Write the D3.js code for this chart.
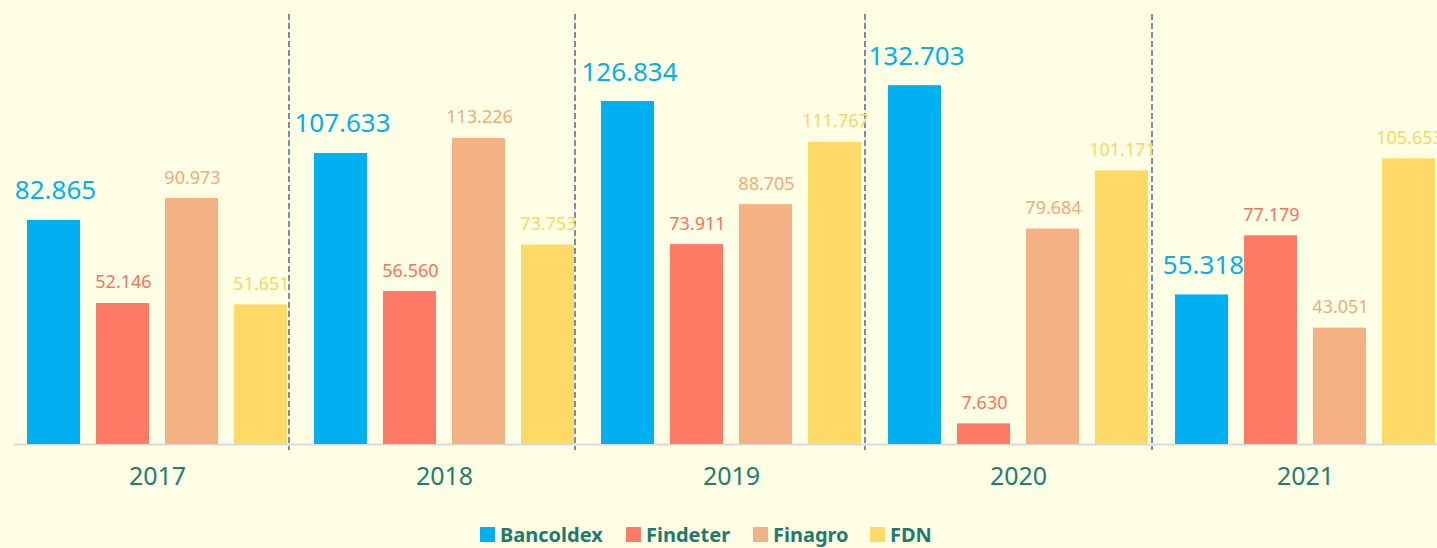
<!DOCTYPE html>
<html><head><meta charset="utf-8">
<script src="https://cdn.jsdelivr.net/npm/d3@7"></script>
<style>html,body{margin:0;padding:0;background:#FFFFE6;}svg{display:block;}</style>
</head><body>
<script>
const years = ["2017","2018","2019","2020","2021"];
const seriesNames = ["Bancoldex","Findeter","Finagro","FDN"];
const bancoldex = [82.865,107.633,126.834,132.703,55.318];
const findeter  = [52.146,56.560,73.911,7.630,77.179];
const finagro   = [90.973,113.226,88.705,79.684,43.051];
const fdn       = [51.651,73.753,111.767,101.171,105.653];
const colors = ["#00B0F0","#FF7A64","#F4B183","#FFD966"];
const labelColors = ["#00B0F0","#FF6F5A","#F4A97A","#FFD45C"];
const values = [bancoldex, findeter, finagro, fdn];
const fmt = v => v.toFixed(3);

const W = 1437, H = 548;
const svg = d3.select("body").append("svg").attr("width",W).attr("height",H);
svg.append("rect").attr("width",W).attr("height",H).attr("fill","#FFFFE6");

const x0 = d3.scaleBand().domain(years).range([13.5, 1448.5]).padding(0);
const x1 = d3.scaleBand().domain(seriesNames).range([13.5, 273.5]).paddingInner(0.232).paddingOuter(0);
const y = d3.scaleLinear().domain([0,160]).range([444, 444-160*2.704]);

const font = "'Noto Sans', sans-serif";

// dividers between year groups
const dividerGap = [2, 1, 4, 4];
years.slice(0,4).forEach((yr,i)=>{
  const xd = x0(yr) + x1.range()[1] + dividerGap[i];
  svg.append("line").attr("x1",xd).attr("x2",xd).attr("y1",14).attr("y2",450)
    .attr("stroke","#4A68A0").attr("stroke-width",1.5).attr("stroke-dasharray","6,3");
});

// baseline
svg.append("line").attr("x1",14).attr("x2",W).attr("y1",444.5).attr("y2",444.5)
  .attr("stroke","#D9D9D9").attr("stroke-width",2);

// bars
seriesNames.forEach((s,si)=>{
  const g = svg.append("g");
  years.forEach((yr,i)=>{
    const v = values[si][i];
    const bx = x0(yr)+x1(s);
    g.append("rect").attr("x",bx).attr("y",y(v)).attr("width",x1.bandwidth()).attr("height",y(0)-y(v))
      .attr("fill",colors[si]);
    const big = si===0;
    g.append("text").attr("x",bx+x1.bandwidth()/2+(big?2:1)).attr("y",y(v)-(big?20.5:14.5))
      .attr("text-anchor","middle").attr("font-family",font)
      .attr("font-size",big?26:18).attr("fill",labelColors[si]).text(fmt(v));
  });
});

// year axis labels
const xAxis = d3.axisBottom(x0).tickSize(0).tickPadding(0);
const ax = svg.append("g").attr("transform","translate(0,467)").call(xAxis);
ax.select(".domain").remove();
ax.selectAll("text").attr("font-family",font).attr("font-size",25).attr("fill","#217E70")
  .attr("dy","0.72em").attr("x",0.5);

// legend
const legendX = [480,626,753,870];
seriesNames.forEach((s,si)=>{
  svg.append("rect").attr("x",legendX[si]).attr("y",527).attr("width",15).attr("height",15).attr("fill",colors[si]);
  svg.append("text").attr("x",legendX[si]+20).attr("y",542).attr("font-family",font)
    .attr("font-weight","bold").attr("font-size",20).attr("fill","#1E7B6D").text(s);
});
</script>
</body></html>
